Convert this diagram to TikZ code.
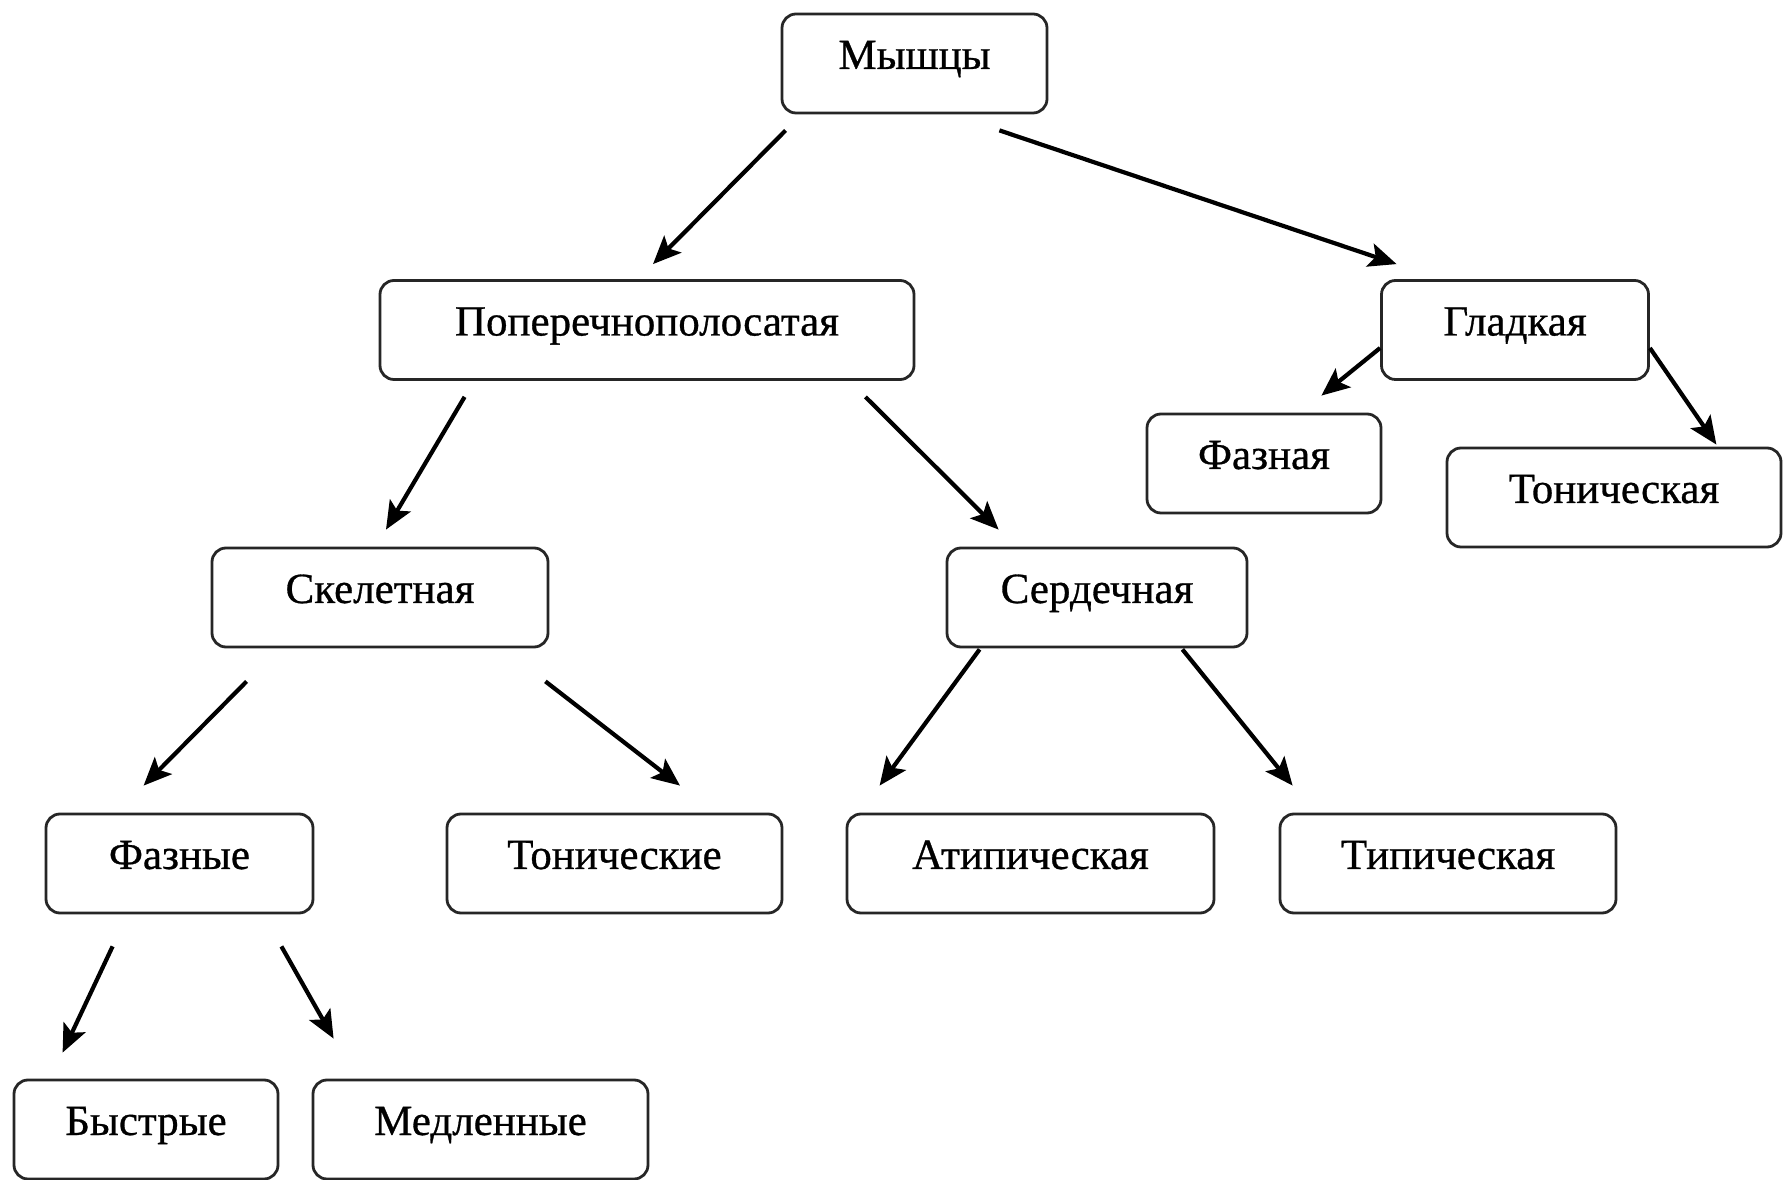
\documentclass[tikz,border=0pt]{standalone}
\usepackage{fontspec}
\setmainfont{Liberation Serif}
\newfontfamily\boxfont[FakeBold=0.7]{Liberation Serif}
\usetikzlibrary{calc,arrows.meta}
\begin{document}
\begin{tikzpicture}[x=1pt,y=1pt,
  box/.style={draw=black!85,line width=2.8pt,rounded corners=14pt,minimum height=99pt,inner sep=0pt,text height=30pt,text depth=19pt,font=\boxfont\fontsize{43}{45}\selectfont},
  arr/.style={line width=4.2pt,-{Stealth[length=28pt,width=24pt,inset=6pt]}}]
\useasboundingbox (0,0) rectangle (1789,1179);
\node[box,minimum width=265pt] (mus) at (914.5,1115.5) {Мышцы};
\node[box,minimum width=534pt] (pop) at (647,849) {Поперечнополосатая};
\node[box,minimum width=267pt] (gla) at (1515,849) {Гладкая};
\node[box,minimum width=234pt] (faz) at (1264,715.5) {Фазная};
\node[box,minimum width=334pt] (ton) at (1614,681.5) {Тоническая};
\node[box,minimum width=336pt] (ske) at (380,581.5) {Скелетная};
\node[box,minimum width=300pt] (ser) at (1097,581.5) {Сердечная};
\node[box,minimum width=267pt] (fzs) at (179.5,315.5) {Фазные};
\node[box,minimum width=335pt] (tns) at (614.5,315.5) {Тонические};
\node[box,minimum width=367pt] (ati) at (1030.5,315.5) {Атипическая};
\node[box,minimum width=336pt] (tip) at (1448,315.5) {Типическая};
\node[box,minimum width=264pt] (bys) at (146,49.5) {Быстрые};
\node[box,minimum width=335pt] (med) at (480.5,49.5) {Медленные};
\draw[arr] ($(mus.south west)+(5,-16)$) -- ($(pop.north)+(6,15)$);
\draw[arr] ($(mus.south east)+(-49,-16)$) -- ($(gla.north west)+(16.5,15)$);
\draw[arr] ($(pop.south west)+(86,-16)$) -- ($(ske.north)+(6,17)$);
\draw[arr] ($(pop.south east)+(-50,-16)$) -- ($(ser.north west)+(53,17)$);
\draw[arr] ($(gla.west)+(0,-18)$) -- ($(faz.north east)+(-61,17)$);
\draw[arr] ($(gla.east)+(0,-18)$) -- ($(ton.north east)+(-66,2)$);
\draw[arr] ($(ske.south west)+(36,-33)$) -- ($(fzs.north west)+(99,27)$);
\draw[arr] ($(ske.south east)+(-4,-33)$) -- ($(tns.north)+(65.5,27)$);
\draw[arr] ($(ser.south west)+(34,-1)$) -- ($(ati.north west)+(34,27)$);
\draw[arr] ($(ser.south east)+(-66,-1)$) -- ($(tip.north west)+(14,27)$);
\draw[arr] ($(fzs.south west)+(68,-32)$) -- ($(bys.north west)+(50,26)$);
\draw[arr] ($(fzs.south east)+(-33,-32)$) -- ($(med.north west)+(22,40)$);
\end{tikzpicture}
\end{document}
